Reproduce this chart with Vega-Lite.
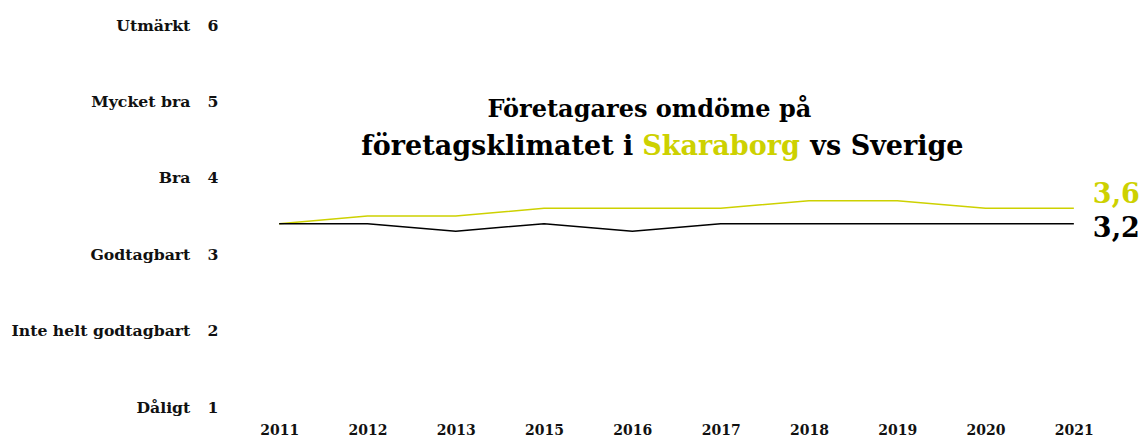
{
  "$schema": "https://vega.github.io/schema/vega-lite/v6.json",
  "width": 883,
  "height": 382,
  "autosize": {"type": "none"},
  "padding": {"left": 235, "top": 25, "right": 25, "bottom": 30},
  "background": "#ffffff",
  "config": {
    "view": {"stroke": null},
    "font": "DejaVu Serif",
    "text": {"font": "DejaVu Serif", "fontWeight": "bold"},
    "axis": {"labelFont": "DejaVu Serif", "labelFontWeight": "bold", "labelColor": "#111111"}
  },
  "datasets": {
    "serier": [
      {"år": "2011", "serie": "Skaraborg", "värde": 3.4, "etikett": ""},
      {"år": "2012", "serie": "Skaraborg", "värde": 3.5, "etikett": ""},
      {"år": "2013", "serie": "Skaraborg", "värde": 3.5, "etikett": ""},
      {"år": "2015", "serie": "Skaraborg", "värde": 3.6, "etikett": ""},
      {"år": "2016", "serie": "Skaraborg", "värde": 3.6, "etikett": ""},
      {"år": "2017", "serie": "Skaraborg", "värde": 3.6, "etikett": ""},
      {"år": "2018", "serie": "Skaraborg", "värde": 3.7, "etikett": ""},
      {"år": "2019", "serie": "Skaraborg", "värde": 3.7, "etikett": ""},
      {"år": "2020", "serie": "Skaraborg", "värde": 3.6, "etikett": ""},
      {"år": "2021", "serie": "Skaraborg", "värde": 3.6, "etikett": "3,6"},
      {"år": "2011", "serie": "Sverige", "värde": 3.4, "etikett": ""},
      {"år": "2012", "serie": "Sverige", "värde": 3.4, "etikett": ""},
      {"år": "2013", "serie": "Sverige", "värde": 3.3, "etikett": ""},
      {"år": "2015", "serie": "Sverige", "värde": 3.4, "etikett": ""},
      {"år": "2016", "serie": "Sverige", "värde": 3.3, "etikett": ""},
      {"år": "2017", "serie": "Sverige", "värde": 3.4, "etikett": ""},
      {"år": "2018", "serie": "Sverige", "värde": 3.4, "etikett": ""},
      {"år": "2019", "serie": "Sverige", "värde": 3.4, "etikett": ""},
      {"år": "2020", "serie": "Sverige", "värde": 3.4, "etikett": ""},
      {"år": "2021", "serie": "Sverige", "värde": 3.4, "etikett": "3,2"}
    ],
    "rubrik": [
      {"del": "rad1", "text": "Företagares omdöme på"},
      {"del": "rad2a", "text": "företagsklimatet i"},
      {"del": "rad2b", "text": "Skaraborg"},
      {"del": "rad2c", "text": "vs Sverige"}
    ]
  },
  "layer": [
    {
      "data": {"name": "serier"},
      "mark": {"type": "line", "strokeWidth": 1.5},
      "encoding": {
        "x": {
          "field": "år",
          "type": "ordinal",
          "scale": {"type": "point", "padding": 0.5},
          "axis": {"title": null, "labelAngle": 0, "domain": false, "ticks": false, "labelFontSize": 14, "labelPadding": 16}
        },
        "y": {
          "field": "värde",
          "type": "quantitative",
          "scale": {"domain": [1, 6], "nice": false, "zero": false},
          "axis": {
            "title": null,
            "values": [1, 2, 3, 4, 5, 6],
            "domain": false,
            "ticks": false,
            "grid": false,
            "labelFontSize": 15.7,
            "labelLimit": 400,
            "labelPadding": 17,
            "labelExpr": "({'1':'Dåligt','2':'Inte helt godtagbart','3':'Godtagbart','4':'Bra','5':'Mycket bra','6':'Utmärkt'})[datum.value] + '\u2003\u200a' + datum.value"
          }
        },
        "color": {
          "field": "serie",
          "type": "nominal",
          "scale": {"domain": ["Skaraborg", "Sverige"], "range": ["#cdd100", "#000000"]},
          "legend": null
        }
      }
    },
    {
      "data": {"name": "serier"},
      "transform": [{"filter": "datum.serie === 'Skaraborg' && datum.etikett !== ''"}],
      "mark": {"type": "text", "align": "left", "baseline": "middle", "dx": 19, "dy": -13, "fontSize": 27, "fontWeight": "bold", "font": "DejaVu Serif", "color": "#cdd100"},
      "encoding": {
        "x": {"field": "år", "type": "ordinal"},
        "y": {"field": "värde", "type": "quantitative"},
        "text": {"field": "etikett"}
      }
    },
    {
      "data": {"name": "serier"},
      "transform": [{"filter": "datum.serie === 'Sverige' && datum.etikett !== ''"}],
      "mark": {"type": "text", "align": "left", "baseline": "middle", "dx": 19, "dy": 5, "fontSize": 27, "fontWeight": "bold", "font": "DejaVu Serif", "color": "#000000"},
      "encoding": {
        "x": {"field": "år", "type": "ordinal"},
        "y": {"field": "värde", "type": "quantitative"},
        "text": {"field": "etikett"}
      }
    },
    {
      "data": {"name": "rubrik"},
      "transform": [{"filter": "datum.del === 'rad1'"}],
      "mark": {"type": "text", "align": "center", "baseline": "middle", "dx": 17, "fontSize": 24, "fontWeight": "bold", "font": "DejaVu Serif", "color": "#000000"},
      "encoding": {
        "x": {"datum": "2016", "type": "ordinal"},
        "y": {"datum": 4.89, "type": "quantitative"},
        "text": {"field": "text"}
      }
    },
    {
      "data": {"name": "rubrik"},
      "transform": [{"filter": "datum.del === 'rad2a'"}],
      "mark": {"type": "text", "align": "right", "baseline": "middle", "dx": 1, "fontSize": 27, "fontWeight": "bold", "font": "DejaVu Serif", "color": "#000000"},
      "encoding": {
        "x": {"datum": "2016", "type": "ordinal"},
        "y": {"datum": 4.4, "type": "quantitative"},
        "text": {"field": "text"}
      }
    },
    {
      "data": {"name": "rubrik"},
      "transform": [{"filter": "datum.del === 'rad2b'"}],
      "mark": {"type": "text", "align": "left", "baseline": "middle", "dx": 10, "fontSize": 27, "fontWeight": "bold", "font": "DejaVu Serif", "color": "#cdd100"},
      "encoding": {
        "x": {"datum": "2016", "type": "ordinal"},
        "y": {"datum": 4.4, "type": "quantitative"},
        "text": {"field": "text"}
      }
    },
    {
      "data": {"name": "rubrik"},
      "transform": [{"filter": "datum.del === 'rad2c'"}],
      "mark": {"type": "text", "align": "left", "baseline": "middle", "dx": 178, "fontSize": 27, "fontWeight": "bold", "font": "DejaVu Serif", "color": "#000000"},
      "encoding": {
        "x": {"datum": "2016", "type": "ordinal"},
        "y": {"datum": 4.4, "type": "quantitative"},
        "text": {"field": "text"}
      }
    }
  ]
}
